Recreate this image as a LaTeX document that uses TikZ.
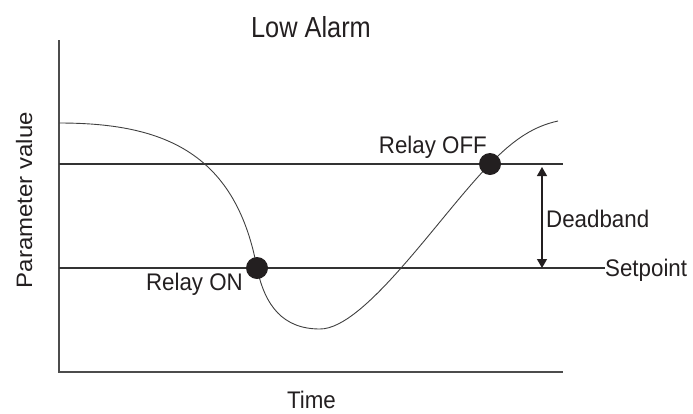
\documentclass[tikz,border=0pt]{standalone}
\usepackage{fontspec}
\setmainfont{Liberation Sans}
\usetikzlibrary{arrows.meta, positioning, calc}
\definecolor{ink}{HTML}{231F20}
\tikzset{
    axis/.style={line width=2pt, draw=black!70},
    level/.style={line width=1.3pt, draw=black!80},
    curve/.style={line width=0.9pt, draw=black!75},
    dot/.style={circle, fill=ink, minimum size=22pt, inner sep=0pt},
    lbl/.style={inner sep=0pt, text=ink, xscale=0.93, font=\fontsize{24}{29}\selectfont},
    band/.style={{Triangle[length=9pt,width=10pt]}-{Triangle[length=9pt,width=10pt]}, line width=1.2pt, draw=ink}
}
\begin{document}
\begin{tikzpicture}[x=1pt, y=-1pt]
    \useasboundingbox (0,0) rectangle (693,413);
    % Axes
    \coordinate (org) at (59,372);
    \coordinate (ytop) at (59,40);
    \coordinate (xend) at (563,372);
    \draw[axis] (ytop) -- (org) -- (xend);

    \node[lbl, xscale=0.94, font=\fontsize{29}{34}\selectfont, anchor=base] (title) at (311,37) {Low Alarm};
    \node[lbl, anchor=base] (time) at (311.5,408) {Time};
    \node[lbl, rotate=90, anchor=base] (param) at (32,200) {Parameter value};

    % Levels
    \coordinate (hi0) at (59,164);
    \coordinate (hi1) at (563,164);
    \coordinate (sp0) at (59,268);
    \node[lbl, anchor=base west] (spt) at (605,276) {Setpoint};
    \draw[level] (hi0) -- (hi1);
    \draw[level] (sp0) -- (sp0 -| spt.west);

    % Deadband
    \coordinate (db) at (542,164);
    \draw[band, shorten <=3pt] (db) -- (db |- sp0);
    \node[lbl, anchor=base west] (dblbl) at (546,227) {Deadband};

    % Parameter curve
    \coordinate (c0) at (59,123);
    \coordinate (pon) at (257,268);
    \coordinate (low) at (320,329);
    \coordinate (poff) at (490,164);
    \coordinate (c1) at (558,121);
    \draw[curve] (c0) .. controls (160,123) and (235,150) .. (pon)
        .. controls (265,306) and (283,329) .. (low)
        .. controls (365,329) and (440,215) .. (poff)
        .. controls (515,138) and (535,126) .. (c1);

    \node[dot] (on) at (pon) {};
    \node[dot] (off) at (poff) {};
    \node[lbl, anchor=base east] (onlbl) at (243,290) {Relay ON};
    \node[lbl, anchor=base east] (offlbl) at (487,153) {Relay OFF};
\end{tikzpicture}
\end{document}
